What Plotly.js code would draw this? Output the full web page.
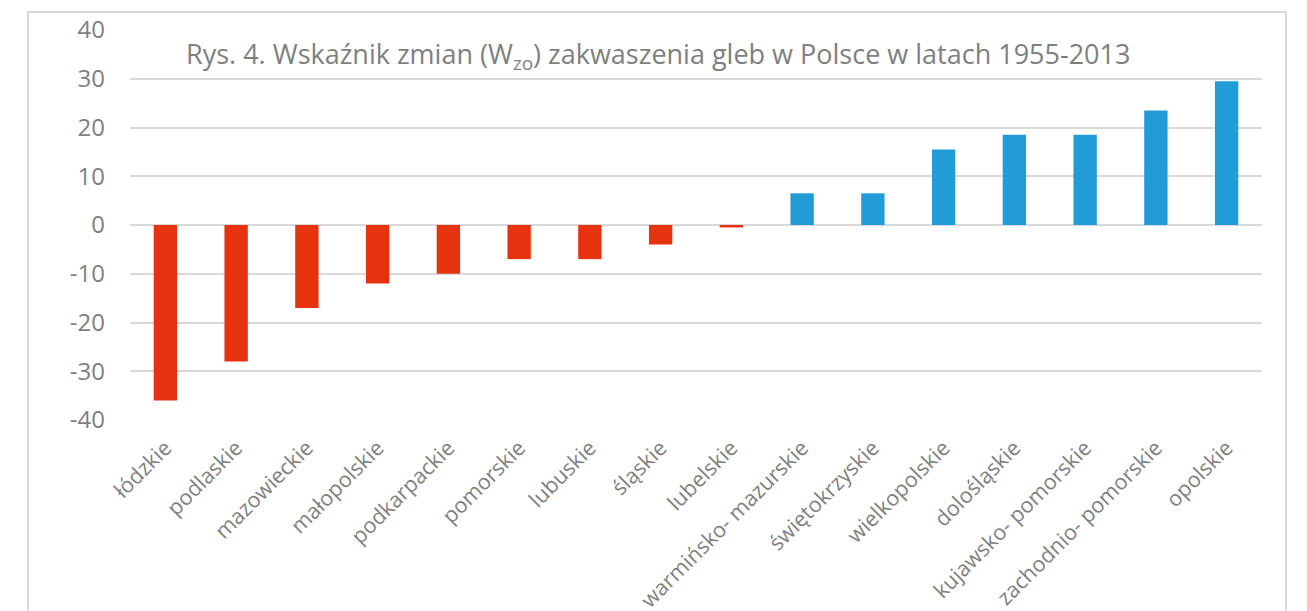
<!DOCTYPE html>
<html>
<head>
<meta charset="utf-8">
<script src="https://cdn.plot.ly/plotly-3.0.1.min.js"></script>
<style>
  html, body { margin: 0; padding: 0; background: #fff; }
  #wrap { position: relative; width: 1307px; height: 611px; overflow: hidden; }
  #chart { width: 1307px; height: 611px; }
  #frame { position: absolute; left: 27px; top: 11px; width: 1260px; height: 640px;
           border: 2px solid #d9d9d9; pointer-events: none; box-sizing: border-box; }
</style>
</head>
<body>
<div id="wrap">
  <div id="chart"></div>
  <div id="frame"></div>
</div>
<script>
const categories = ["łódzkie", "podlaskie", "mazowieckie", "małopolskie", "podkarpackie",
  "pomorskie", "lubuskie", "śląskie", "lubelskie", "warmińsko- mazurskie",
  "świętokrzyskie", "wielkopolskie", "dolośląskie", "kujawsko- pomorskie",
  "zachodnio- pomorskie", "opolskie"];
const values = [-36, -28, -17, -12, -10, -7, -7, -4, -0.5, 6.5, 6.5, 15.5, 18.5, 18.5, 23.5, 29.5];
const yTicks = [-40, -30, -20, -10, 0, 10, 20, 30, 40];
const titleText = "Rys. 4. Wskaźnik zmian (W<sub>zo</sub>) zakwaszenia gleb w Polsce w latach 1955-2013";

const negColor = "#E6330F";
const posColor = "#229CD7";
const colors = values.map(v => v < 0 ? negColor : posColor);

const W = 1307, H = 611;
const m = {l: 130, r: 45, t: 30, b: 191};
const plotW = W - m.l - m.r, plotH = H - m.t - m.b;

const font = "Open Sans, sans-serif";
const grey = "#7f7f7f";

Plotly.newPlot("chart", [{
  type: "bar",
  x: categories,
  y: values,
  marker: {color: colors, line: {width: 0}},
  hoverinfo: "x+y"
}], {
  width: W, height: H,
  margin: m,
  paper_bgcolor: "#fff", plot_bgcolor: "#fff",
  showlegend: false,
  bargap: 0.67,
  font: {family: font, color: grey},
  xaxis: {
    type: "category",
    tickangle: -45,
    tickfont: {family: font, size: 21.5, color: grey},
    showgrid: false, zeroline: false, showline: false, ticks: "",
    ticklabelstandoff: 10
  },
  yaxis: {
    range: [-40, 40],
    tickvals: yTicks,
    ticktext: yTicks.map(String),
    tickfont: {family: font, size: 24, color: grey},
    showgrid: true, gridcolor: "#d9d9d9", gridwidth: 2,
    zeroline: true, zerolinecolor: "#d9d9d9", zerolinewidth: 2,
    showline: false, ticks: "",
    ticklabelstandoff: 24,
    fixedrange: true
  },
  annotations: [{
    text: titleText,
    xref: "paper", yref: "paper",
    x: (658 - m.l) / plotW, y: (m.t + plotH - 55) / plotH,
    xanchor: "center", yanchor: "middle",
    showarrow: false,
    font: {family: font, size: 27, color: grey}
  }]
}, {displayModeBar: false, staticPlot: true});
</script>
</body>
</html>
